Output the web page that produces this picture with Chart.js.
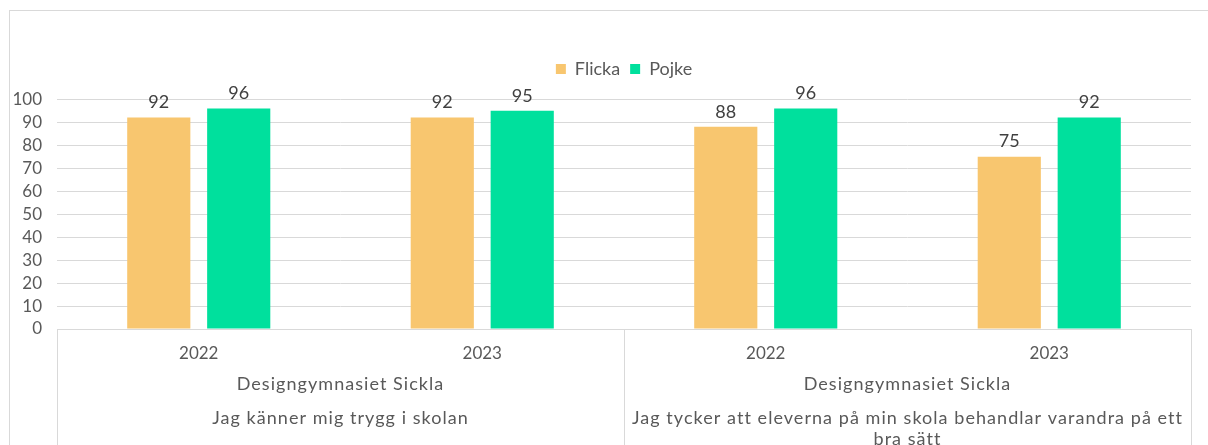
<!DOCTYPE html>
<html>
<head>
<meta charset="utf-8">
<script src="https://cdn.jsdelivr.net/npm/chart.js@4.4.1/dist/chart.umd.min.js"></script>
<style>
  html, body { margin: 0; padding: 0; background: #fff; overflow: hidden; width: 1208px; height: 445px; }
  #frame { position: absolute; left: 9px; top: 10px; width: 1230px; height: 470px; border: 1px solid #d9d9d9; }
  #wrap { position: absolute; left: 0; top: 0; width: 1208px; height: 445px; }
</style>
</head>
<body>
<div id="frame"></div>
<div id="wrap"><canvas id="chart"></canvas></div>
<script>
const years = ["2022", "2023", "2022", "2023"];
const schools = ["Designgymnasiet Sickla", "Designgymnasiet Sickla"];
const questions = [
  ["Jag känner mig trygg i skolan"],
  ["Jag tycker att eleverna på min skola behandlar varandra på ett", "bra sätt"]
];
const flicka = [92, 92, 88, 75];
const pojke = [96, 95, 96, 92];
const yTicks = [0, 10, 20, 30, 40, 50, 60, 70, 80, 90, 100];

const FONT = "Lato";
const TEXT = "#595959";
const GRID = "#d9d9d9";

// numbers above the bars
const valueLabels = {
  id: "valueLabels",
  afterDatasetsDraw(chart) {
    const ctx = chart.ctx;
    ctx.save();
    ctx.font = "18px " + FONT;
    ctx.fillStyle = "#404040";
    ctx.textAlign = "center";
    ctx.textBaseline = "bottom";
    chart.data.datasets.forEach((ds, i) => {
      chart.getDatasetMeta(i).data.forEach((bar, j) => {
        ctx.fillText(ds.data[j], bar.x, bar.y - 6);
      });
    });
    ctx.restore();
  }
};

// second and third level of the category axis (school + question)
const groupAxis = {
  id: "groupAxis",
  afterDraw(chart) {
    const x = chart.scales.x;
    const ctx = chart.ctx;
    const top = chart.chartArea.bottom;
    const bottom = chart.height;
    const half = (x.getPixelForValue(1) - x.getPixelForValue(0)) / 2;
    const per = years.length / schools.length;
    ctx.save();
    ctx.strokeStyle = GRID;
    ctx.lineWidth = 1;
    for (let g = 0; g <= schools.length; g++) {
      const px = Math.round(x.getPixelForValue(g * per) - half) + 0.5;
      ctx.beginPath();
      ctx.moveTo(px, top);
      ctx.lineTo(px, bottom);
      ctx.stroke();
    }
    ctx.font = "18px " + FONT;
    ctx.letterSpacing = "1.05px";
    ctx.fillStyle = TEXT;
    ctx.textAlign = "center";
    ctx.textBaseline = "middle";
    schools.forEach((s, g) => {
      const cx = (x.getPixelForValue(g * per) + x.getPixelForValue(g * per + per - 1)) / 2;
      ctx.fillText(s, cx, top + 55);
      questions[g].forEach((line, k) => {
        ctx.fillText(line, cx, top + 89 + k * 21);
      });
    });
    ctx.restore();
  }
};

new Chart(document.getElementById("chart"), {
  type: "bar",
  data: {
    labels: years,
    datasets: [
      { label: "Flicka", data: flicka, backgroundColor: "#f8c66f" },
      { label: "Pojke", data: pojke, backgroundColor: "#00e09d" }
    ]
  },
  options: {
    responsive: true,
    maintainAspectRatio: false,
    animation: false,
    layout: { padding: { top: 50, right: 17, left: 0, bottom: 0 } },
    datasets: { bar: { categoryPercentage: 0.564, barPercentage: 0.79 } },
    plugins: {
      legend: {
        position: "top",
        fullSize: false, // centred over the plot, not the canvas
        labels: {
          boxWidth: 10,
          boxHeight: 10,
          padding: 10,
          color: TEXT,
          font: { family: FONT, size: 18 }
        }
      },
      // empty spacer between legend and plot
      subtitle: { display: true, text: "", weight: 500, padding: { top: 10, bottom: 0 }, font: { size: 1 } },
      tooltip: { enabled: false }
    },
    scales: {
      x: {
        grid: { display: false },
        border: { color: GRID },
        ticks: { color: TEXT, font: { family: FONT, size: 17 }, padding: 6 },
        afterFit(s) { s.height = 116; }
      },
      y: {
        min: 0,
        max: 100,
        afterBuildTicks(s) { s.ticks = yTicks.map(v => ({ value: v })); },
        grid: { color: GRID, drawTicks: false },
        border: { display: false },
        ticks: { color: TEXT, font: { family: FONT, size: 17, lineHeight: 1 }, padding: 15, autoSkipPadding: 0 },
        afterFit(s) { s.width = 57; }
      }
    }
  },
  plugins: [valueLabels, groupAxis]
});
</script>
</body>
</html>
